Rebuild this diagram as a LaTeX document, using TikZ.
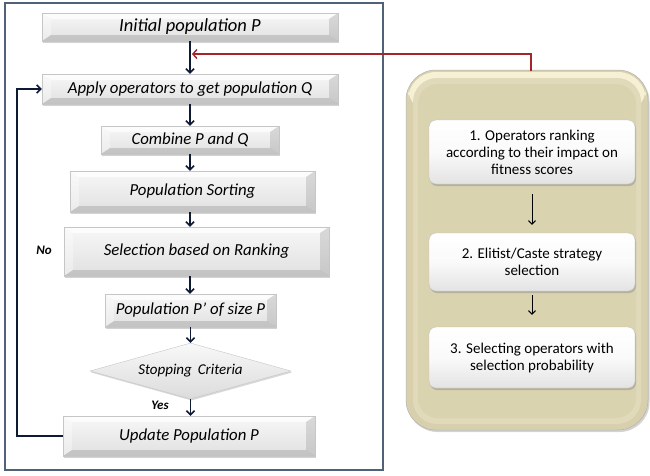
\documentclass[tikz,border=0pt]{standalone}
\usepackage{fontspec}
\setmainfont{Carlito}
\usetikzlibrary{shapes.geometric,arrows.meta,shadows}
\definecolor{navy}{HTML}{0E1A33}
\definecolor{framec}{HTML}{4F6278}
\definecolor{redc}{HTML}{A3262A}
\definecolor{panelc}{HTML}{D8D0AC}
\definecolor{panelin}{HTML}{E0D9BA}
\definecolor{panelhi}{HTML}{F6F1D5}
\tikzset{
  bevelbox/.style={draw=gray!45, line width=0.4pt, inner sep=0pt,
    font=\fontsize{16.8}{19}\selectfont\itshape,
    drop shadow={shadow xshift=1pt,shadow yshift=-1.5pt,opacity=0.35,fill=gray},
    path picture={
      \coordinate (pA) at (path picture bounding box.north west);
      \coordinate (pB) at (path picture bounding box.north east);
      \coordinate (pC) at (path picture bounding box.south east);
      \coordinate (pD) at (path picture bounding box.south west);
      \shade[top color=gray!6,bottom color=gray!24] (pA) rectangle (pC);
      \fill[white,opacity=0.7] (pA) -- (pB) -- ([shift={(-9pt,-6pt)}]pB) -- ([shift={(9pt,-6pt)}]pA) -- cycle;
      \fill[white,opacity=0.35] (pA) -- (pD) -- ([shift={(9pt,6pt)}]pD) -- ([shift={(9pt,-6pt)}]pA) -- cycle;
      \fill[gray,opacity=0.25] (pB) -- (pC) -- ([shift={(-9pt,6pt)}]pC) -- ([shift={(-9pt,-6pt)}]pB) -- cycle;
      \fill[gray,opacity=0.3] (pD) -- (pC) -- ([shift={(-9pt,6pt)}]pC) -- ([shift={(9pt,6pt)}]pD) -- cycle;
    }},
  softbox/.style={draw=gray!50, line width=0.4pt, rounded corners=7pt, inner sep=2pt,
    top color=white, bottom color=gray!22, middle color=gray!4,
    align=center, font=\fontsize{15}{17}\selectfont,
    drop shadow={shadow xshift=1pt,shadow yshift=-2pt,opacity=0.4,fill=gray}},
  arr/.style={draw=navy, line width=1.6pt, -{Straight Barb[length=4pt,width=8pt,line width=1.6pt]}},
  rarr/.style={draw=black, line width=1pt, -{Straight Barb[length=3.5pt,width=7pt,line width=1pt]}},
  lbl/.style={font=\fontsize{13}{15}\selectfont\bfseries\itshape},
}
\begin{document}
\begin{tikzpicture}[x=1pt,y=-1pt]
\useasboundingbox (0,0) rectangle (650,475);
% left frame
\node[draw=framec, line width=1.5pt, fill=white, minimum width=378pt, minimum height=467pt, inner sep=0pt] (frame) at (194,236.5) {};
% boxes
\node[bevelbox, minimum width=296pt, minimum height=28pt, font=\fontsize{18.5}{20}\selectfont\itshape] (init) at (190,27) {Initial population P};
\node[bevelbox, minimum width=296pt, minimum height=30pt] (apply) at (190,89) {Apply operators to get population Q};
\node[bevelbox, minimum width=178pt, minimum height=28pt] (comb) at (190,140) {Combine P and Q};
\node[bevelbox, minimum width=245pt, minimum height=41pt] (sort) at (192.5,191.5) {Population Sorting};
\node[bevelbox, minimum width=265pt, minimum height=49pt] (sel) at (196.5,251.5) {Selection based on Ranking};
\node[bevelbox, minimum width=171pt, minimum height=33pt] (pp) at (190.5,310.5) {Population P’ of size P};
\node[diamond, aspect=3.59, draw=gray!45, line width=0.4pt, inner sep=0pt,
  minimum width=201pt, minimum height=56pt, top color=gray!5, bottom color=gray!28,
  drop shadow={shadow xshift=1pt,shadow yshift=-1.5pt,opacity=0.3,fill=gray},
  font=\fontsize{15}{17}\selectfont\itshape] (stop) at (190.5,371) {Stopping\hspace{0.4em}Criteria};
\node[bevelbox, minimum width=252pt, minimum height=40pt] (upd) at (189,436) {Update Population P};
\node[lbl] (no) at (44,250) {No};
\node[lbl] (yes) at (160,405) {Yes};
% arrows
\coordinate (join) at (190,54);
\draw[arr] (init.south) -- (apply.north);
\draw[arr] (apply.south) -- (comb.north);
\draw[arr] (comb.south) -- (comb.south |- sort.north);
\draw[arr] (comb.south |- sort.south) -- (comb.south |- sel.north);
\draw[arr] (comb.south |- sel.south) -- (comb.south |- pp.north);
\draw[arr] (pp.south) -- (pp.south |- stop.north);
\draw[arr] (pp.south |- stop.south) -- (pp.south |- upd.north);
\draw[arr] (upd.west) -- ++(-46,0) |- (apply.west);
% right panel
\node[draw=gray!60, line width=0.5pt, rounded corners=30pt, fill=panelc, minimum width=242pt, minimum height=360pt, inner sep=0pt,
  drop shadow={shadow xshift=1.5pt,shadow yshift=-2pt,opacity=0.35,fill=gray}] (panel) at (527,250) {};
\fill[panelhi, rounded corners=28pt] (408,72) rectangle (646,115);
\fill[panelin, rounded corners=24pt] (413,78) rectangle (641,424);
\fill[panelc!70!panelin, rounded corners=20pt] (418,84) rectangle (636,418);
\node[softbox, minimum width=206pt, minimum height=64pt] (ra) at (532,152) {1. Operators ranking\\according to their impact on\\fitness scores};
\node[softbox, minimum width=206pt, minimum height=58pt] (rb) at (532,262) {2. Elitist/Caste strategy\\selection};
\node[softbox, minimum width=206pt, minimum height=61pt] (rc) at (532,357.5) {3. Selecting operators with\\selection probability};
\draw[rarr] ([yshift=-10pt]ra.south) -- ([yshift=8pt]rb.north);
\draw[rarr] ([yshift=-4pt]rb.south) -- ([yshift=12pt]rc.north);
% red connector
\draw[draw=black!70, line width=2.6pt, line join=miter] (531,71) |- (196,54);
\draw[redc, line width=1.4pt, -{Straight Barb[length=4pt,width=9pt,line width=1.4pt]}] (531,71) |- ([xshift=2pt]join);
\end{tikzpicture}
\end{document}
